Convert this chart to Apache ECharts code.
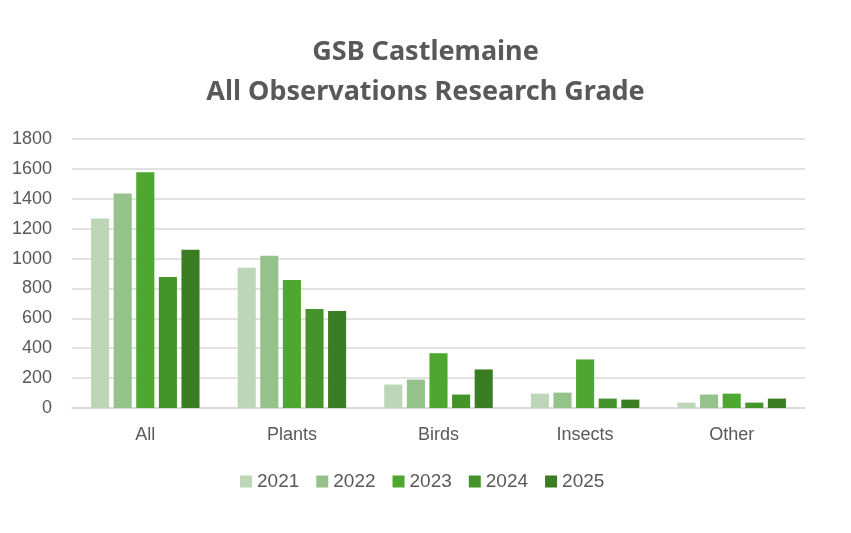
<!DOCTYPE html>
<html>
<head>
<meta charset="utf-8">
<script src="https://cdn.jsdelivr.net/npm/echarts@6/dist/echarts.min.js"></script>
<style>
  html, body { margin: 0; padding: 0; background: #fff; }
  #chart { width: 851px; height: 533px; }
</style>
</head>
<body>
<div id="chart"></div>
<script>
  // categories and yearly values
  var categories = ["All", "Plants", "Birds", "Insects", "Other"];
  var years = ["2021", "2022", "2023", "2024", "2025"];
  var v2021 = [1268, 938, 157, 96, 36];
  var v2022 = [1436, 1019, 190, 103, 90];
  var v2023 = [1578, 857, 366, 325, 96];
  var v2024 = [877, 662, 90, 63, 36];
  var v2025 = [1059, 649, 258, 56, 63];
  var colors = ["#bdd6b8", "#95c18b", "#4ea72e", "#45932b", "#3b7d23"];

  var values = [v2021, v2022, v2023, v2024, v2025];
  var font = "'Liberation Sans', Arial, sans-serif";

  var myChart = echarts.init(document.getElementById("chart"));

  var option = {
    backgroundColor: "#fff",
    title: {
      text: "GSB Castlemaine\nAll Observations Research Grade",
      left: "center",
      top: 27,
      textStyle: {
        fontFamily: "'Noto Sans', sans-serif",
        fontWeight: "bold",
        fontSize: 27,
        lineHeight: 40,
        color: "#595959"
      }
    },
    legend: {
      data: years,
      bottom: 37,
      left: 235,
      itemWidth: 12,
      itemHeight: 12,
      itemGap: 17,
      icon: "rect",
      textStyle: { fontFamily: font, fontSize: 19, color: "#595959" }
    },
    grid: {
      left: 72,
      right: 46,
      top: 139,
      bottom: 125
    },
    xAxis: {
      type: "category",
      data: categories,
      axisTick: { show: false },
      axisLine: { lineStyle: { color: "#d9d9d9", width: 1.5 } },
      axisLabel: {
        margin: 18,
        fontFamily: font,
        fontSize: 18,
        color: "#595959"
      }
    },
    yAxis: {
      type: "value",
      min: 0,
      max: 1800,
      interval: 200,
      axisLine: { show: false },
      axisTick: { show: false },
      splitLine: { lineStyle: { color: "#d9d9d9", width: 1.5 } },
      axisLabel: {
        margin: 20,
        fontFamily: font,
        fontSize: 18,
        color: "#595959",
        formatter: function (v) { return String(v); }
      }
    },
    series: years.map(function (y, i) {
      return {
        name: y,
        type: "bar",
        data: values[i],
        barGap: "25%",
        barCategoryGap: "26%",
        itemStyle: { color: colors[i] }
      };
    })
  };

  myChart.setOption(option);
</script>
</body>
</html>
